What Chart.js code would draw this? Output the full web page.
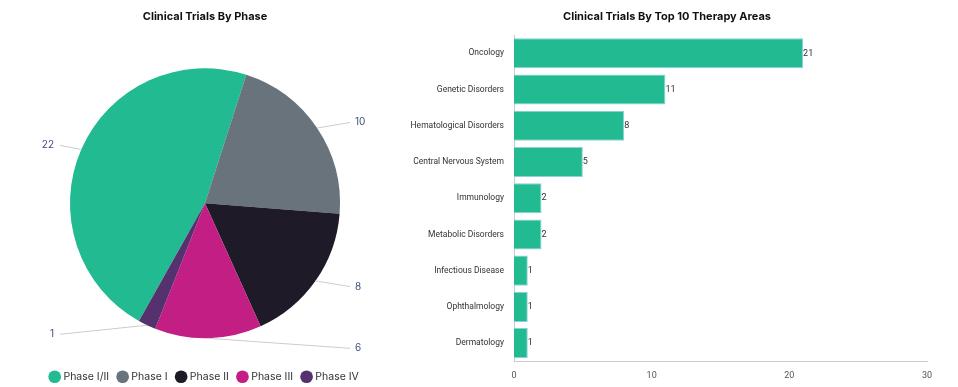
<!DOCTYPE html>
<html>
<head>
<meta charset="utf-8">
<script src="https://cdn.jsdelivr.net/npm/chart.js@4.4.1/dist/chart.umd.min.js"></script>
<style>
  body { margin: 0; background: #fff; }
  #wrap { position: relative; width: 958px; height: 387px; }
  .box { position: absolute; top: 0; height: 387px; }
  #left { left: 0; width: 410px; }
  #right { left: 376px; width: 582px; }
</style>
</head>
<body>
<div id="wrap">
  <div class="box" id="left"><canvas id="pie"></canvas></div>
  <div class="box" id="right"><canvas id="bars"></canvas></div>
</div>
<script>
// Pie data
let phases = ['Phase I/II', 'Phase I', 'Phase II', 'Phase III', 'Phase IV'];
let phaseCounts = [22, 10, 8, 6, 1];
let phaseColors = ['#21ba91', '#68737b', '#1e1a28', '#c21e83', '#55326d'];

// Bar data
let areas = ['Oncology', 'Genetic Disorders', 'Hematological Disorders', 'Central Nervous System',
  'Immunology', 'Metabolic Disorders', 'Infectious Disease', 'Ophthalmology', 'Dermatology'];
let areaCounts = [21, 11, 8, 5, 2, 2, 1, 1, 1];
let xTicks = [0, 10, 20, 30];

let font = 'Inter, "Noto Sans", sans-serif';
let narrow = 'Roboto, "Noto Sans", sans-serif';

// outside labels with little leader lines, like the original
let pieLabels = {
  id: 'pieLabels',
  afterDraw(chart) {
    let ctx = chart.ctx;
    let meta = chart.getDatasetMeta(0);
    ctx.save();
    ctx.font = '10px ' + font;
    ctx.textBaseline = 'middle';
    meta.data.forEach((arc, i) => {
      let mid = (arc.startAngle + arc.endAngle) / 2;
      let r = arc.outerRadius;
      let ex = arc.x + r * Math.cos(mid);
      let ey = arc.y + r * Math.sin(mid);
      let ly = arc.y + (r + 10) * Math.sin(mid);
      let right = Math.cos(mid) >= 0;
      let lx = right ? arc.x + r + 15 : arc.x - r - 16;
      ctx.strokeStyle = '#cccccc';
      ctx.lineWidth = 1;
      ctx.beginPath();
      ctx.moveTo(ex, ey);
      ctx.lineTo(right ? lx - 5 : lx + 6, ly);
      ctx.stroke();
      ctx.fillStyle = '#3d4f7d';
      ctx.textAlign = right ? 'left' : 'right';
      ctx.fillText(phaseCounts[i], lx, ly);
    });
    ctx.restore();
  }
};

let barLabels = {
  id: 'barLabels',
  afterDatasetsDraw(chart) {
    let ctx = chart.ctx;
    let meta = chart.getDatasetMeta(0);
    ctx.save();
    ctx.font = '9px ' + narrow;
    ctx.fillStyle = '#333';
    ctx.textBaseline = 'middle';
    ctx.textAlign = 'left';
    meta.data.forEach((bar, i) => {
      ctx.fillText(areaCounts[i], bar.x, bar.y);
    });
    ctx.restore();
  }
};

new Chart(document.getElementById('pie'), {
  type: 'pie',
  data: {
    labels: phases,
    datasets: [{
      data: phaseCounts,
      backgroundColor: phaseColors,
      borderWidth: 0,
      radius: 135
    }]
  },
  options: {
    responsive: true,
    maintainAspectRatio: false,
    animation: false,
    rotation: 17.8 - 360 * 22 / 47,
    layout: { padding: { top: 0, bottom: -5 } },
    plugins: {
      title: {
        display: true,
        text: 'Clinical Trials By Phase',
        color: '#111',
        font: { family: font, size: 11, weight: 'bold' },
        padding: { top: 10, bottom: 22 }
      },
      legend: {
        position: 'bottom',
        labels: {
          usePointStyle: true,
          pointStyle: 'circle',
          boxWidth: 7,
          boxHeight: 9,
          padding: 10,
          color: '#333',
          font: { family: font, size: 10.5 }
        }
      },
      tooltip: { enabled: false }
    }
  },
  plugins: [pieLabels]
});

new Chart(document.getElementById('bars'), {
  type: 'bar',
  data: {
    labels: areas,
    datasets: [{
      data: areaCounts,
      backgroundColor: '#21ba91',
      borderColor: '#8fcde0',
      borderWidth: 1,
      barPercentage: 0.83,
      categoryPercentage: 1
    }]
  },
  options: {
    indexAxis: 'y',
    responsive: true,
    maintainAspectRatio: false,
    animation: false,
    layout: { padding: { left: 31, right: 31, bottom: 5 } },
    scales: {
      x: {
        min: 0,
        max: 30,
        afterBuildTicks: s => { s.ticks = xTicks.map(v => ({ value: v })); },
        grid: { display: false },
        border: { color: '#cccccc' },
        ticks: { color: '#555', font: { family: narrow, size: 9 }, padding: 1 }
      },
      y: {
        afterFit: s => { s.width = 107; },
        grid: { display: false },
        border: { color: '#cccccc' },
        ticks: { color: '#333', font: { family: narrow, size: 8.5 }, padding: 2 }
      }
    },
    plugins: {
      title: {
        display: true,
        text: 'Clinical Trials By Top 10 Therapy Areas',
        color: '#111',
        font: { family: font, size: 11, weight: 'bold' },
        padding: { top: 10, bottom: 12 }
      },
      legend: { display: false },
      tooltip: { enabled: false }
    }
  },
  plugins: [barLabels]
});
</script>
</body>
</html>
